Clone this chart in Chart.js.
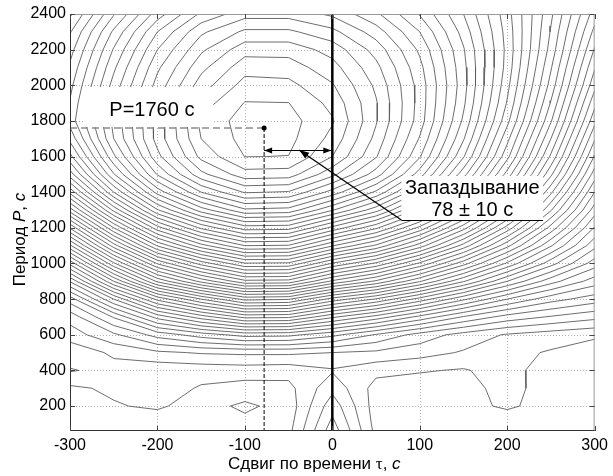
<!DOCTYPE html>
<html>
<head>
<meta charset="utf-8">
<script src="https://cdn.jsdelivr.net/npm/chart.js@4.4.0/dist/chart.umd.min.js"></script>
<style>
  html, body { margin: 0; padding: 0; background: #fff; }
</style>
</head>
<body>
<canvas id="contour" width="613" height="476"></canvas>
<script>
// узлы сетки: сдвиг по времени (с) и период (с)
const tau = [-300, -250, -200, -150, -100, -50, 0, 50, 100, 150, 200, 250, 300];
const period = [2400, 2300, 2200, 2100, 2000, 1900, 1800, 1700, 1600, 1500, 1400, 1300,
  1200, 1100, 1000, 900, 800, 700, 600, 500, 400, 300, 200, 100, 60];

// значения поля в узлах (номер изолинии от максимума), строки сверху вниз
const field = [
  [17.7, 13.6, 10.0, 7.3, 5.9, 5.9, 6.7, 8.3, 10.6, 13.5, 17.1, 21.3, 26.0],  // 2400
  [16.6, 12.3, 8.5, 5.7, 4.3, 4.3, 5.2, 7.0, 9.5, 12.9, 16.9, 21.6, 26.8],    // 2300
  [15.9, 11.4, 7.5, 4.7, 2.9, 2.9, 3.9, 5.9, 8.7, 12.4, 16.8, 21.9, 27.6],    // 2200
  [15.3, 10.7, 6.7, 3.8, 1.9, 2.0, 3.1, 5.2, 8.2, 12.2, 16.9, 22.4, 28.4],    // 2100
  [14.8, 10.1, 6.1, 3.0, 1.1, 1.2, 2.4, 4.7, 7.9, 12.1, 17.2, 22.9, 29.2],    // 2000
  [14.4, 9.5, 5.5, 2.0, 0.45, 0.48, 1.8, 4.4, 7.9, 12.3, 17.6, 23.6, 30.2],   // 1900
  [14.1, 9.2, 5.1, 1.2, 0.1, 0.1, 1.4, 4.4, 8.0, 12.7, 18.2, 24.4, 31.2],     // 1800
  [15.2, 9.5, 5.1, 1.5, 0.15, 0.2, 1.8, 4.8, 8.6, 13.4, 19.2, 25.5, 32.4],    // 1700
  [16.8, 10.7, 5.8, 2.2, 0.48, 0.52, 2.5, 5.4, 9.4, 14.4, 20.2, 26.7, 33.6],  // 1600
  [19.0, 12.6, 7.4, 3.8, 1.9, 2.0, 4.2, 7.0, 11.0, 16.1, 21.9, 28.3, 35.0],   // 1500
  [22.2, 15.5, 10.1, 6.5, 4.4, 4.6, 6.9, 9.7, 13.6, 18.5, 24.2, 30.3, 36.5],  // 1400
  [26.0, 19.2, 13.6, 10.0, 7.7, 7.9, 10.4, 13.1, 16.9, 21.5, 26.8, 32.4, 38.0], // 1300
  [30.4, 23.5, 17.9, 14.3, 12.0, 12.1, 14.8, 17.3, 20.8, 25.1, 29.9, 34.9, 39.6], // 1200
  [34.7, 28.0, 22.4, 18.9, 16.5, 16.6, 19.4, 21.7, 25.0, 28.9, 33.2, 37.4, 41.2], // 1100
  [39.2, 32.7, 27.4, 24.1, 21.6, 21.7, 24.6, 26.7, 29.7, 33.1, 36.7, 40.1, 43.0], // 1000
  [43.4, 37.5, 32.3, 29.2, 26.8, 26.9, 29.7, 31.7, 34.4, 37.4, 40.5, 43.1, 45.0], // 900
  [47.0, 42.5, 38.2, 35.5, 33.2, 33.4, 35.9, 37.6, 39.9, 42.3, 44.5, 46.1, 47.0], // 800
  [49.1, 46.4, 43.1, 41.0, 39.2, 39.3, 41.3, 42.9, 44.8, 46.6, 47.9, 48.6, 49.2], // 700
  [50.0, 48.7, 47.1, 46.0, 45.1, 45.2, 46.2, 47.6, 48.9, 49.9, 50.6, 51.0, 51.3], // 600
  [51.2, 50.3, 49.7, 49.4, 49.3, 49.3, 49.5, 49.7, 50.1, 50.6, 51.2, 51.6, 52.1], // 500
  [50.4, 50.9, 51.2, 51.1, 51.0, 51.1, 50.6, 51.2, 51.4, 51.6, 51.0, 52.2, 51.6], // 400
  [51.7, 51.3, 51.0, 51.6, 51.9, 51.8, 49.8, 51.9, 52.1, 51.8, 51.2, 51.9, 52.3], // 300
  [51.9, 51.6, 51.3, 52.1, 52.7, 52.1, 48.9, 52.0, 52.3, 51.9, 51.3, 52.0, 52.4], // 200
  [52.1, 51.6, 52.3, 51.8, 52.2, 51.9, 48.2, 51.9, 52.4, 51.7, 52.3, 51.8, 52.0], // 100
  [52.2, 51.6, 52.4, 51.7, 52.1, 51.8, 47.9, 51.8, 52.5, 51.7, 52.4, 51.7, 51.9], // 60
];

const xTicks = [-300, -200, -100, 0, 100, 200, 300];
const yTicks = [200, 400, 600, 800, 1000, 1200, 1400, 1600, 1800, 2000, 2200, 2400];

// максимум и оценка запаздывания
const peakTau = -78;
const peakPeriod = 1760;
const lagError = 10;

const levels = [];
for (let c = 0.5; c < 53; c += 1) levels.push(c);

const FONT = '"Liberation Sans", Arial, sans-serif';

// изолинии методом marching squares, отрезки разделены пустыми точками
function contourSegments(level) {
  const pts = [];
  for (let j = 0; j < period.length - 1; j++) {
    for (let i = 0; i < tau.length - 1; i++) {
      const c = [
        { x: tau[i], y: period[j], v: field[j][i] },
        { x: tau[i + 1], y: period[j], v: field[j][i + 1] },
        { x: tau[i + 1], y: period[j + 1], v: field[j + 1][i + 1] },
        { x: tau[i], y: period[j + 1], v: field[j + 1][i] },
      ];
      const cross = [];
      for (let k = 0; k < 4; k++) {
        const a = c[k], b = c[(k + 1) % 4];
        if ((a.v > level) !== (b.v > level)) {
          const t = (level - a.v) / (b.v - a.v);
          cross.push({ x: a.x + t * (b.x - a.x), y: a.y + t * (b.y - a.y) });
        }
      }
      const seg = (p, q) => pts.push(p, q, { x: q.x, y: null });
      if (cross.length === 2) {
        seg(cross[0], cross[1]);
      } else if (cross.length === 4) {
        const mid = (c[0].v + c[1].v + c[2].v + c[3].v) / 4;
        if ((mid > level) === (c[0].v > level)) {
          seg(cross[0], cross[1]);
          seg(cross[2], cross[3]);
        } else {
          seg(cross[3], cross[0]);
          seg(cross[1], cross[2]);
        }
      }
    }
  }
  return pts;
}

const contourSets = levels.map((level) => ({
  data: contourSegments(level),
  showLine: true,
  pointRadius: 0,
  borderColor: "#5c5c5c",
  borderWidth: 0.9,
  spanGaps: false,
}));

const marks = [
  {
    data: [{ x: peakTau, y: peakPeriod }],
    pointRadius: 2.5,
    pointBackgroundColor: "#000",
    pointBorderWidth: 0,
  },
  {
    data: [{ x: 0, y: 60 }, { x: 0, y: 2400 }],
    showLine: true,
    pointRadius: 0,
    borderColor: "#000",
    borderWidth: 2.5,
  },
  {
    data: [{ x: peakTau, y: peakPeriod }, { x: peakTau, y: 60 }],
    showLine: true,
    pointRadius: 0,
    borderColor: "#000",
    borderWidth: 1,
    borderDash: [4, 2],
  },
  {
    data: [{ x: -300, y: peakPeriod }, { x: peakTau, y: peakPeriod }],
    showLine: true,
    pointRadius: 0,
    borderColor: "#8c8c8c",
    borderWidth: 1.5,
    borderDash: [7, 4],
  },
];

function arrowHead(ctx, tx, ty, fx, fy, len, half) {
  const ang = Math.atan2(ty - fy, tx - fx);
  const cs = Math.cos(ang), sn = Math.sin(ang);
  ctx.beginPath();
  ctx.moveTo(tx, ty);
  ctx.lineTo(tx - len * cs + half * sn, ty - len * sn - half * cs);
  ctx.lineTo(tx - len * cs - half * sn, ty - len * sn + half * cs);
  ctx.closePath();
  ctx.fill();
}

function drawRich(ctx, parts, cx, cy) {
  let w = 0;
  parts.forEach((p) => { ctx.font = p.font; w += ctx.measureText(p.t).width; });
  let x0 = cx - w / 2;
  parts.forEach((p) => {
    ctx.font = p.font;
    ctx.fillText(p.t, x0, cy);
    x0 += ctx.measureText(p.t).width;
  });
}

const gridPlugin = {
  id: "matlabGrid",
  beforeDatasetsDraw(chart) {
    const { ctx, chartArea: a, scales: { x, y } } = chart;
    ctx.save();
    ctx.strokeStyle = "#b0b0b0";
    ctx.lineWidth = 1;
    ctx.setLineDash([1, 2]);
    xTicks.forEach((v) => {
      if (v <= x.min || v >= x.max) return;
      const px = Math.round(x.getPixelForValue(v)) + 0.5;
      ctx.beginPath(); ctx.moveTo(px, a.top); ctx.lineTo(px, a.bottom); ctx.stroke();
    });
    yTicks.forEach((v) => {
      if (v <= y.min || v >= y.max) return;
      const py = Math.round(y.getPixelForValue(v)) + 0.5;
      ctx.beginPath(); ctx.moveTo(a.left, py); ctx.lineTo(a.right, py); ctx.stroke();
    });
    ctx.restore();
  },
  afterDraw(chart) {
    const { ctx, chartArea: a, scales: { x, y } } = chart;
    ctx.save();
    ctx.lineWidth = 1;
    // рамка
    ctx.strokeStyle = "#999";
    ctx.beginPath();
    ctx.moveTo(a.left, a.top + 0.5); ctx.lineTo(a.right - 0.5, a.top + 0.5);
    ctx.lineTo(a.right - 0.5, a.bottom);
    ctx.stroke();
    ctx.strokeStyle = "#333";
    ctx.beginPath();
    ctx.moveTo(a.left + 0.5, a.top); ctx.lineTo(a.left + 0.5, a.bottom - 0.5);
    ctx.lineTo(a.right, a.bottom - 0.5);
    ctx.stroke();
    // засечки внутрь
    ctx.strokeStyle = "#444";
    xTicks.forEach((v) => {
      const px = Math.round(x.getPixelForValue(v)) + 0.5;
      ctx.beginPath(); ctx.moveTo(px, a.bottom); ctx.lineTo(px, a.bottom - 5); ctx.stroke();
      ctx.beginPath(); ctx.moveTo(px, a.top); ctx.lineTo(px, a.top + 5); ctx.stroke();
    });
    yTicks.forEach((v) => {
      const py = Math.round(y.getPixelForValue(v)) + 0.5;
      ctx.beginPath(); ctx.moveTo(a.left, py); ctx.lineTo(a.left + 5, py); ctx.stroke();
      ctx.beginPath(); ctx.moveTo(a.right, py); ctx.lineTo(a.right - 5, py); ctx.stroke();
    });
    // подписи осей
    ctx.fillStyle = "#000";
    ctx.textBaseline = "alphabetic";
    drawRich(ctx, [
      { t: "Сдвиг по времени ", font: "17px " + FONT },
      { t: "τ", font: '17px "Liberation Serif", serif' },
      { t: ", ", font: "17px " + FONT },
      { t: "с", font: "italic 17px " + FONT },
    ], (a.left + a.right) / 2 - 18, 469);
    ctx.translate(25, (a.top + a.bottom) / 2 + 17);
    ctx.rotate(-Math.PI / 2);
    drawRich(ctx, [
      { t: "Период ", font: "17px " + FONT },
      { t: "P", font: "italic 17px " + FONT },
      { t: ", ", font: "17px " + FONT },
      { t: "с", font: "italic 17px " + FONT },
    ], 0, 0);
    ctx.restore();
  },
};

const notePlugin = {
  id: "notes",
  afterDatasetsDraw(chart) {
    const { ctx, scales: { x, y } } = chart;
    const px = (v) => x.getPixelForValue(v);
    const py = (v) => y.getPixelForValue(v);
    ctx.save();
    ctx.fillStyle = "#fff";
    // плашка "P=1760 с"
    ctx.fillRect(px(-285), py(1990), px(-136) - px(-285), py(1766) - py(1990));
    // плашка "Запаздывание"
    ctx.fillRect(px(79), py(1491), px(241) - px(79), py(1244) - py(1491));

    ctx.fillStyle = "#000";
    ctx.font = "20px " + FONT;
    ctx.textAlign = "left";
    ctx.textBaseline = "alphabetic";
    ctx.fillText("P=" + peakPeriod + " с", px(-255), py(1828));
    ctx.textAlign = "center";
    ctx.fillText("Запаздывание", px(160), py(1390));
    ctx.fillText(-peakTau + " ± " + lagError + " с", px(160), py(1264));

    ctx.strokeStyle = "#000";
    ctx.lineWidth = 1;
    ctx.beginPath();
    ctx.moveTo(px(79), Math.round(py(1244)) + 0.5);
    ctx.lineTo(px(241), Math.round(py(1244)) + 0.5);
    ctx.stroke();

    // двойная стрелка запаздывания
    const ay = Math.round(py(1637)) + 0.5;
    ctx.beginPath();
    ctx.moveTo(px(peakTau), ay); ctx.lineTo(px(0), ay);
    ctx.stroke();
    arrowHead(ctx, px(peakTau), ay, px(0), ay, 8, 3);
    arrowHead(ctx, px(0) - 1, ay, px(peakTau), ay, 8, 3);

    // выноска
    ctx.lineWidth = 1.3;
    ctx.beginPath();
    ctx.moveTo(px(-38), py(1637)); ctx.lineTo(px(79), py(1244));
    ctx.stroke();
    arrowHead(ctx, px(-38), py(1637), px(79), py(1244), 10, 3.5);
    ctx.restore();
  },
};

new Chart(document.getElementById("contour"), {
  type: "scatter",
  data: { datasets: [...marks, ...contourSets] },
  options: {
    responsive: false,
    animation: false,
    events: [],
    layout: { padding: { top: 14, right: 13, left: 0, bottom: 0 } },
    plugins: {
      legend: { display: false },
      tooltip: { enabled: false },
    },
    scales: {
      x: {
        type: "linear",
        min: -300,
        max: 300,
        afterBuildTicks: (s) => { s.ticks = xTicks.map((v) => ({ value: v })); },
        afterFit: (s) => { s.height = 45; },
        grid: { display: false, drawTicks: false },
        border: { display: false },
        ticks: {
          color: "#000",
          font: { family: FONT, size: 16 },
          padding: 5,
          maxRotation: 0,
          autoSkip: false,
          callback: (v) => String(v),
        },
      },
      y: {
        type: "linear",
        min: 60,
        max: 2400,
        afterBuildTicks: (s) => { s.ticks = yTicks.map((v) => ({ value: v })); },
        afterFit: (s) => { s.width = 70; },
        grid: { display: false, drawTicks: false },
        border: { display: false },
        ticks: {
          color: "#000",
          font: { family: FONT, size: 16 },
          padding: 4,
          autoSkip: false,
          callback: (v) => String(v),
        },
      },
    },
  },
  plugins: [gridPlugin, notePlugin],
});
</script>
</body>
</html>
